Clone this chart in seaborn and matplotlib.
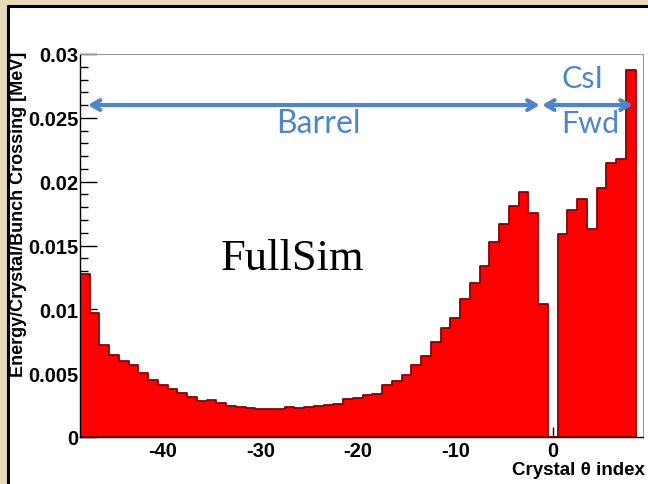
import matplotlib
matplotlib.use("Agg")
import matplotlib.pyplot as plt
from matplotlib.patches import Rectangle
from matplotlib.ticker import MultipleLocator
import numpy as np
import pandas as pd
import seaborn as sns

# ---- data ----
theta_index = list(range(-48, 9))
energy = [0.01273, 0.00970, 0.00721, 0.00645, 0.00596, 0.00564, 0.00499, 0.00447,
          0.00405, 0.00379, 0.00342, 0.00316, 0.00285, 0.00293, 0.00264, 0.00243,
          0.00233, 0.00230, 0.00222, 0.00222, 0.00222, 0.00238, 0.00230, 0.00238,
          0.00240, 0.00248, 0.00259, 0.00300, 0.00306, 0.00330, 0.00340, 0.00404,
          0.00440, 0.00488, 0.00567, 0.00638, 0.00745, 0.00852, 0.00935, 0.01084,
          0.01205, 0.01341, 0.01524, 0.01670, 0.01806, 0.01918, 0.01756, 0.01040,
          0.0, 0.01589, 0.01780, 0.01863, 0.01628, 0.01950, 0.02148, 0.02174,
          0.02872]
xtick_values = [-40, -30, -20, -10, 0]
ytick_values = [0, 0.005, 0.01, 0.015, 0.02, 0.025, 0.03]
ytick_labels = ["0", "0.005", "0.01", "0.015", "0.02", "0.025", "0.03"]
region_labels = ["Barrel", "CsI", "Fwd"]

df = pd.DataFrame({"theta": theta_index, "energy": energy})

sns.set_style("ticks")
plt.rcParams["font.family"] = ["Liberation Sans", "DejaVu Sans"]
for key in ["text.color", "axes.labelcolor", "xtick.color", "ytick.color"]:
    plt.rcParams[key] = "black"

fig = plt.figure(figsize=(6.48, 4.85), dpi=100)
fig.patch.set_facecolor("#e6dbb6")
# white panel with black border
panel = Rectangle((8 / 648, -0.05), 1.0, 1 - 7 / 485 + 0.05,
                  transform=fig.transFigure, facecolor="white",
                  edgecolor="black", linewidth=2.2, zorder=-5)
fig.patches.append(panel)

ax = fig.add_axes([80 / 648, 1 - 438 / 485, 563 / 648, 383 / 485])
ax.set_zorder(2)
ax.set_facecolor("white")

sns.histplot(data=df, x="theta", weights="energy", discrete=True,
             element="step", fill=True, color="#ff0000", alpha=1.0,
             edgecolor="#8a0000", linewidth=1.3, ax=ax)

ax.set_xlim(-48.5, 9.25)
ax.set_ylim(0, 0.03)

ax.set_xticks(xtick_values)
ax.set_xticklabels([str(v) for v in xtick_values])
ax.set_yticks(ytick_values)
ax.set_yticklabels(ytick_labels)
ax.xaxis.set_minor_locator(MultipleLocator(2))
ax.yaxis.set_minor_locator(MultipleLocator(0.001))
ax.tick_params(axis="both", which="both", direction="in", labelsize=14.5,
               top=False, right=False, color="black", width=1.0)
ax.tick_params(axis="y", which="major", length=12, pad=1)
ax.tick_params(axis="y", which="minor", length=6)
ax.tick_params(axis="x", which="major", length=7, pad=3)
ax.tick_params(axis="x", which="minor", length=3.5)
for lab in ax.get_xticklabels() + ax.get_yticklabels():
    lab.set_fontweight("bold")

for side in ["top", "right"]:
    ax.spines[side].set_visible(True)
    ax.spines[side].set_color("#999999")
    ax.spines[side].set_linewidth(0.8)
for side in ["left", "bottom"]:
    ax.spines[side].set_color("black")
    ax.spines[side].set_linewidth(1.0)

ax.set_xlabel("")
ax.set_ylabel("")
fig.text(19 / 648, 1 - 214 / 485, "Energy/Crystal/Bunch Crossing [MeV]",
         rotation=90, ha="center", va="center", fontsize=13, fontweight="bold",
         zorder=3)
fig.text(645 / 648, 1 - 471 / 485, "Crystal \u03b8 index", ha="right",
         va="center", fontsize=13.5, fontweight="bold", zorder=3)

blue = "#4f86c6"
arrow_y = 0.026
ax.annotate("", xy=(-1.35, arrow_y), xytext=(-47.7, arrow_y),
            arrowprops=dict(arrowstyle="<->,head_length=0.6,head_width=0.35",
                            color=blue, lw=3, shrinkA=0, shrinkB=0))
ax.annotate("", xy=(8.2, arrow_y), xytext=(-1.1, arrow_y),
            arrowprops=dict(arrowstyle="<->,head_length=0.6,head_width=0.35",
                            color=blue, lw=3, shrinkA=0, shrinkB=0))
ax.text(-24.0, 0.0246, region_labels[0], color=blue, fontsize=23,
        family=["Lato", "DejaVu Sans"], ha="center", va="center")
ax.text(3.0, 0.0281, region_labels[1], color=blue, fontsize=22,
        family=["Lato", "DejaVu Sans"], ha="center", va="center")
ax.text(3.9, 0.0246, region_labels[2], color=blue, fontsize=22,
        family=["Lato", "DejaVu Sans"], ha="center", va="center")
ax.text(-26.7, 0.0140, "FullSim", color="black", fontsize=32,
        family=["Liberation Serif", "DejaVu Serif"], ha="center", va="center")

fig.savefig("out.png", dpi=100, facecolor=fig.get_facecolor())
